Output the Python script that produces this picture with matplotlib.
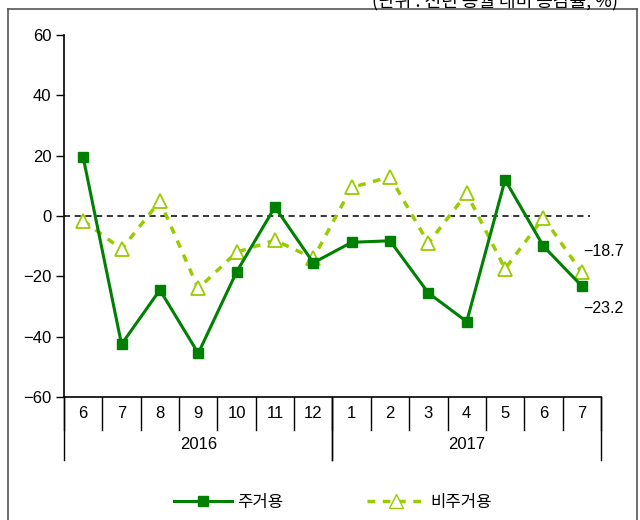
import numpy as np
import matplotlib
matplotlib.use('Agg')
from matplotlib import pyplot as plt
from matplotlib.lines import Line2D

plt.rcParams['font.family'] = ['Liberation Sans', 'Noto Sans CJK KR', 'DejaVu Sans']
plt.rcParams['axes.unicode_minus'] = True

months = ['6', '7', '8', '9', '10', '11', '12', '1', '2', '3', '4', '5', '6', '7']
years = ['2016', '2017']
year_spans = [(0, 7), (7, 14)]
residential = [19.5, -42.5, -24.5, -45.5, -18.5, 3.0, -15.5, -8.7, -8.2, -25.5, -35.0, 12.0, -10.0, -23.2]
nonresidential = [-1.5, -11.0, 5.0, -24.0, -12.0, -8.0, -14.0, 9.5, 13.0, -9.0, 7.5, -17.5, -0.5, -18.7]

c_main = '#008000'
c_sub = '#99cc00'
kr = ['Noto Sans CJK KR', 'DejaVu Sans']
sub_ls = (0, (2.2, 2.2))

fig = plt.figure(figsize=(6.4, 5.2), dpi=100)
ax = fig.add_axes([0.1, 0.2365, 0.839, 0.696])
x = np.arange(len(months))

ax.axhline(0, xmin=0, xmax=0.98, color='black', lw=1.1, ls=(0, (4, 3)))
ax.plot(x, nonresidential, color=c_sub, lw=2.5, ls=sub_ls, marker='^', ms=10,
        mfc='white', mec=c_sub, mew=1.3, zorder=3)
ax.plot(x, residential, color=c_main, lw=2.2, marker='s', ms=7, mfc=c_main, mec=c_main, zorder=4)

ax.set_xlim(-0.5, len(months) - 0.5)
ax.set_ylim(-60, 60)
ax.set_yticks(np.arange(-60, 61, 20))
ax.set_yticklabels(['\u221260', '\u221240', '\u221220', '0', '20', '40', '60'])
ax.tick_params(axis='y', direction='out', length=6, width=1, labelsize=12, pad=3)
ax.spines['top'].set_visible(False)
ax.spines['right'].set_visible(False)
ax.spines['left'].set_linewidth(1.2)
ax.spines['bottom'].set_linewidth(1.2)

# month ticks between categories, labels placed below
ax.set_xticks([])
trans = ax.get_xaxis_transform()
for i in range(len(months) + 1):
    ax.plot([i - 0.5, i - 0.5], [0, -0.09], transform=trans, color='black', lw=1, clip_on=False)
for i, m in enumerate(months):
    ax.text(i, -0.045, m, transform=trans, ha='center', va='center', fontsize=12)
for (a, b), yr in zip(year_spans, years):
    ax.plot([a - 0.5, a - 0.5], [0, -0.175], transform=trans, color='black', lw=1, clip_on=False)
    ax.plot([b - 0.5, b - 0.5], [0, -0.175], transform=trans, color='black', lw=1, clip_on=False)
    ax.text((a + b - 1) / 2, -0.13, yr, transform=trans, ha='center', va='center', fontsize=12)

ax.annotate('\u221218.7', (x[-1], nonresidential[-1]), xytext=(1, 15), textcoords='offset points',
            ha='left', va='center', fontsize=11.5)
ax.annotate('\u221223.2', (x[-1], residential[-1]), xytext=(1, -16), textcoords='offset points',
            ha='left', va='center', fontsize=11.5)

# frame around the figure
fc = '#555555'
fig.add_artist(Line2D([8/640, 8/640], [0, 1 - 9/520], color=fc, lw=1.2))
fig.add_artist(Line2D([637/640, 637/640], [0, 1 - 9/520], color=fc, lw=1.2))
fig.add_artist(Line2D([8/640, 637/640], [1 - 9/520, 1 - 9/520], color=fc, lw=1.2))
fig.text(0.965, 0.998, '(단위 : 전년 동월 대비 증감률, %)', ha='right', va='center', fontsize=13, family=kr)

# legend
h1 = Line2D([], [], color=c_main, lw=2.2, marker='s', ms=7)
h2 = Line2D([], [], color=c_sub, lw=2.5, ls=sub_ls, marker='^', ms=10, mfc='white', mec=c_sub)
fig.legend([h1, h2], ['주거용', '비주거용'], loc='center', bbox_to_anchor=(0.52, 1 - 502/520), ncol=2,
           frameon=False, prop={'family': kr, 'size': 12}, handlelength=3.5, columnspacing=5.0,
           handletextpad=0.3)

plt.savefig('out.png', dpi=100)
